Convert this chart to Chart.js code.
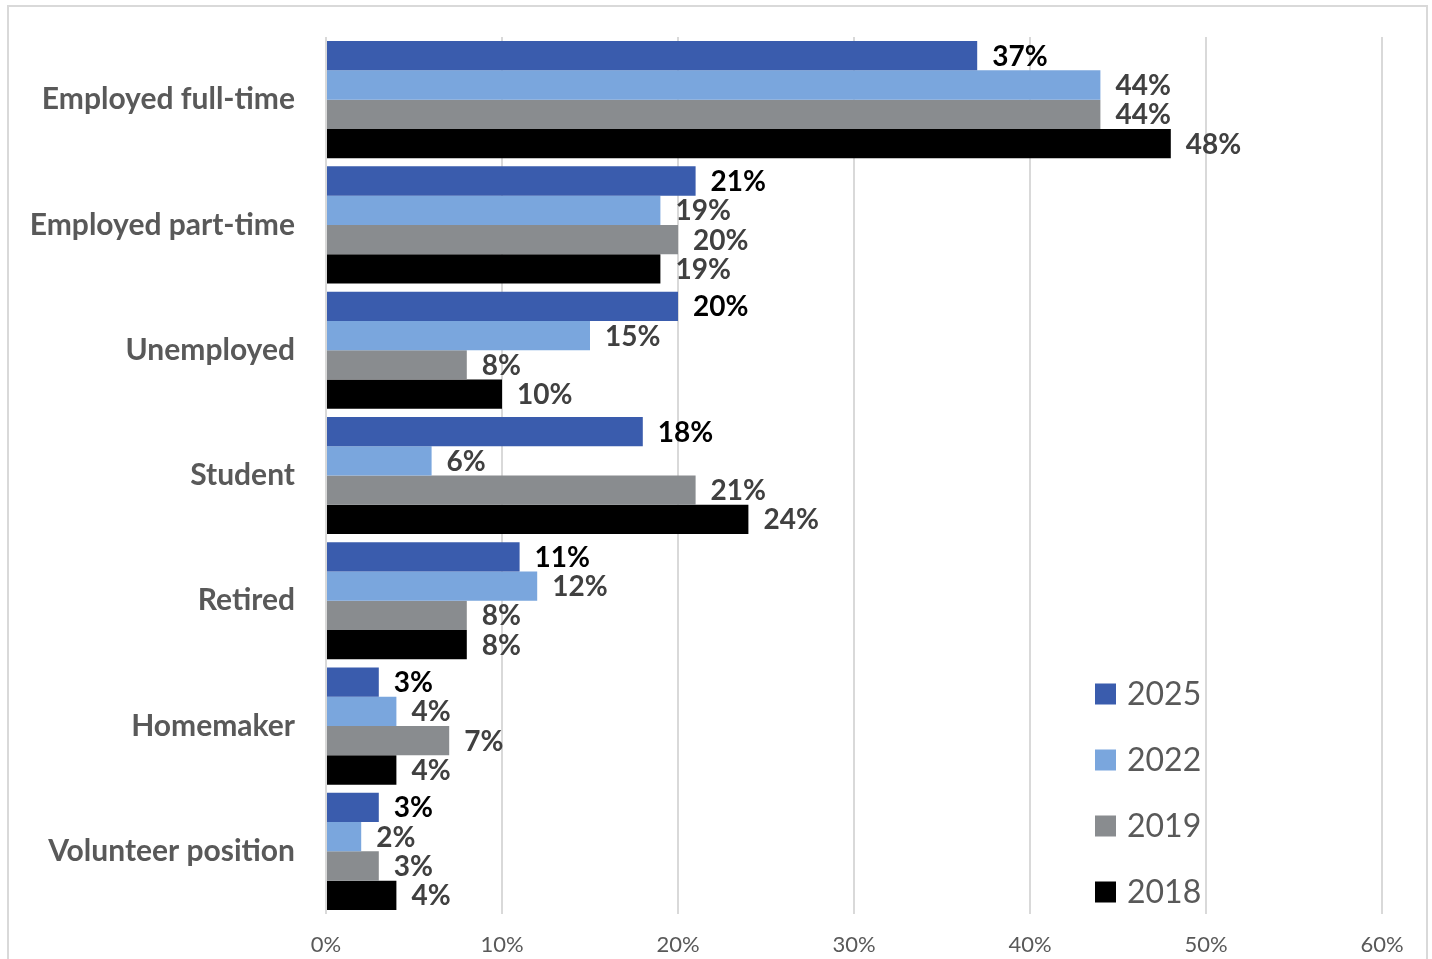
<!DOCTYPE html>
<html>
<head>
<meta charset="utf-8">
<title>Employment status</title>
<script src="https://cdn.jsdelivr.net/npm/chart.js@4.4.1/dist/chart.umd.min.js"></script>
<style>
  html, body { margin: 0; padding: 0; background: #fff; overflow: hidden; }
  #frame {
    position: absolute; left: 7px; top: 5px; width: 1421px; height: 980px;
    border: 2px solid #d9d9d9; box-sizing: border-box;
  }
  #wrap { position: absolute; left: 0; top: 0; width: 1432px; height: 959px; }
</style>
</head>
<body>
<div id="frame"></div>
<div id="wrap"><canvas id="chart" width="1432" height="959"></canvas></div>
<script>
// categories and survey shares (%) per year
const categories = [
  'Employed full-time', 'Employed part-time', 'Unemployed',
  'Student', 'Retired', 'Homemaker', 'Volunteer position'
];
const years = ['2025', '2022', '2019', '2018'];
const values2025 = [37, 21, 20, 18, 11, 3, 3];
const values2022 = [44, 19, 15, 6, 12, 4, 2];
const values2019 = [44, 20, 8, 21, 8, 7, 3];
const values2018 = [48, 19, 10, 24, 8, 4, 4];
const xTicks = [0, 10, 20, 30, 40, 50, 60];

const COLORS = ['#3a5cad', '#7aa6dd', '#898c8f', '#000000'];
const LABEL_COLORS = ['#000000', '#404040', '#404040', '#404040'];
const FONT = 'Lato, "Open Sans", sans-serif';

// value labels just past the end of each bar
const barLabels = {
  id: 'barLabels',
  afterDatasetsDraw(chart) {
    const ctx = chart.ctx;
    ctx.save();
    ctx.font = 'bold 28px ' + FONT;
    ctx.textAlign = 'left';
    ctx.textBaseline = 'middle';
    chart.data.datasets.forEach((ds, i) => {
      const meta = chart.getDatasetMeta(i);
      ctx.fillStyle = LABEL_COLORS[i];
      meta.data.forEach((bar, j) => {
        ctx.fillText(ds.data[j] + '%', bar.x + 15, bar.y + 1);
      });
    });
    ctx.restore();
  }
};

// legend stacked inside the lower right of the plot
const boxLegend = {
  id: 'boxLegend',
  afterDraw(chart) {
    const ctx = chart.ctx;
    const x0 = 1095, y0 = 694, step = 66, box = 21;
    ctx.save();
    ctx.font = '32px ' + FONT;
    ctx.textBaseline = 'middle';
    ctx.textAlign = 'left';
    chart.data.datasets.forEach((ds, i) => {
      const y = y0 + i * step;
      ctx.fillStyle = ds.backgroundColor;
      ctx.fillRect(x0, y - box / 2, box, box);
      ctx.fillStyle = '#595959';
      ctx.fillText(ds.label, x0 + 32, y + 1);
    });
    ctx.restore();
  }
};

const series = [values2025, values2022, values2019, values2018];

new Chart(document.getElementById('chart'), {
  type: 'bar',
  data: {
    labels: categories,
    datasets: series.map((data, i) => ({
      label: years[i],
      data: data,
      backgroundColor: COLORS[i],
      borderWidth: 0,
      categoryPercentage: 0.935,
      barPercentage: 1.0
    }))
  },
  options: {
    indexAxis: 'y',
    responsive: false,
    animation: false,
    layout: { padding: { top: 37, right: 50, left: 0, bottom: 0 } },
    plugins: {
      legend: { display: false },
      tooltip: { enabled: false }
    },
    scales: {
      x: {
        min: 0,
        max: 60,
        afterBuildTicks(scale) {
          scale.ticks = xTicks.map(v => ({ value: v }));
        },
        afterFit(scale) {
          scale.height = 45;
          scale.paddingLeft = 0;
          scale.paddingRight = 0;
        },
        grid: { color: '#d9d9d9', lineWidth: 2, drawTicks: false },
        border: { display: false },
        ticks: {
          padding: 18,
          color: '#595959',
          font: { family: FONT, size: 22 },
          callback: v => v + '%'
        }
      },
      y: {
        afterFit(scale) {
          scale.width = 326;
          scale.paddingTop = 0;
          scale.paddingBottom = 0;
        },
        grid: { display: false },
        border: { display: false },
        ticks: {
          padding: 23,
          color: '#595959',
          font: { family: FONT, size: 30, weight: 'bold' }
        }
      }
    }
  },
  plugins: [barLabels, boxLegend]
});
</script>
</body>
</html>
